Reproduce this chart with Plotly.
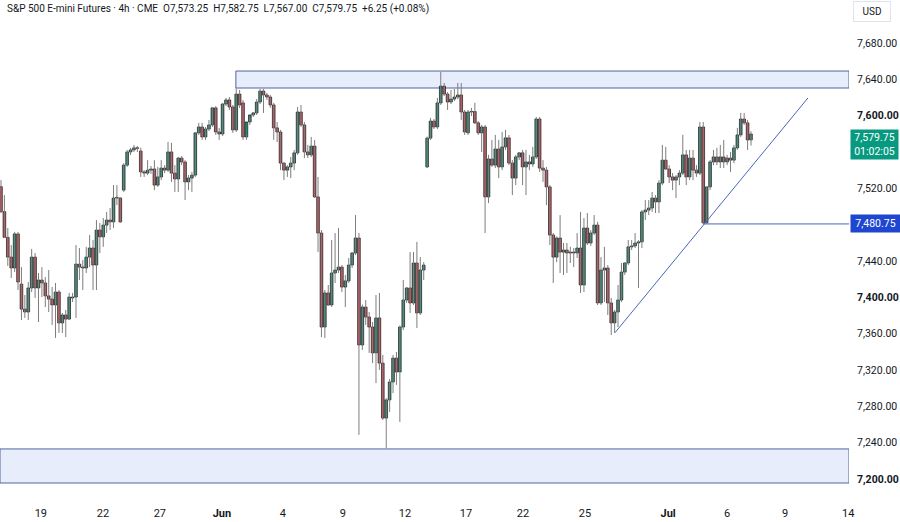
import plotly.graph_objects as go

# ---------------- data (4h bars) ----------------
opens = [7521.75, 7494.25, 7466, 7444.25, 7432.25, 7469.75, 7414.5, 7387, 7383.75, 7410.25,
         7444.25, 7410.25, 7419, 7415.75, 7401.5, 7398, 7391.5, 7405.75, 7371.75, 7380.5,
         7376, 7399.25, 7400.25, 7436.5, 7433.25, 7432.25, 7444.25, 7454.25, 7435.5, 7474,
         7466.5, 7479.5, 7485, 7483, 7509.25, 7509.25,
         7518, 7545.5, 7560, 7562.25, 7564.5, 7561, 7538, 7536.75, 7540, 7541.25,
         7523.5, 7532.5, 7542.25, 7540, 7560, 7536.75, 7530.25, 7553.25, 7549, 7527,
         7531.25, 7534.5, 7581, 7587.5, 7576.5, 7585.25, 7589.75, 7608.5, 7582, 7579.75,
         7612.75, 7617.25, 7609.5, 7584.25, 7623.75,
         7614, 7576.5, 7593, 7600.75, 7603, 7615, 7627, 7622.75, 7620.5, 7611.75,
         7586.5, 7582, 7547.75, 7540, 7543.5, 7547.75, 7559, 7604, 7589.75, 7560,
         7556.75, 7566.5, 7510.5, 7470.75, 7367.25, 7404.75, 7391.5, 7426.75, 7430, 7433.25,
         7411.25, 7418, 7435.5, 7448.75, 7465.25, 7347.5, 7389.25, 7378.25, 7367.25, 7338.75,
         7377.25, 7327.5, 7267, 7287, 7306.75, 7333, 7317.75, 7367.25, 7397, 7410.25,
         7393.75, 7437.75, 7382.75, 7430,
         7543.5, 7575.25, 7594, 7587.5, 7614, 7632.5, 7623.75, 7615, 7618.25, 7620.5,
         7622.75, 7604, 7581, 7604, 7604.5, 7592, 7581, 7587.5, 7510.5, 7552.25,
         7545.5, 7563.25, 7543.5, 7565.5, 7575.5, 7547.75, 7531.25, 7554.5, 7559, 7543.5,
         7549, 7546.75, 7554.5, 7596.25, 7542.25, 7540, 7521.5, 7468.5, 7444.25, 7465.25,
         7449.75, 7452, 7448.75, 7449.75, 7448.75, 7454.25, 7413.5, 7476.25, 7459.75, 7470.75,
         7479.5, 7393.75, 7430, 7432.25, 7393.75, 7371.75, 7383.75, 7397, 7427.75, 7437.75,
         7455.5, 7456.5, 7459.75, 7461, 7494, 7496, 7498.25, 7509.25, 7505, 7525.75,
         7551, 7541.25, 7532.5, 7529, 7532.5, 7536.75, 7556.75, 7532.5, 7553.25, 7540,
         7536.75, 7587.5, 7482, 7521.5, 7549, 7554.5, 7549, 7554.5, 7549, 7553.25,
         7551, 7564.5, 7578.75, 7596.25, 7592, 7573.25]

highs = [7529, 7512.5, 7476.25, 7457.5, 7472, 7472, 7433.25, 7402.5, 7416.75, 7453.25,
         7448.75, 7426.75, 7433.25, 7422.25, 7430, 7411.25, 7415.75, 7408, 7382.75, 7386,
         7404.75, 7404.75, 7457.5, 7454.25, 7441, 7455.5, 7468.5, 7463, 7485, 7481.75,
         7487.25, 7494, 7498.25, 7523.5, 7523.5, 7510.5,
         7547.75, 7562.25, 7564.5, 7567.75, 7566.5, 7564.5, 7540, 7551, 7544.5, 7551,
         7543.5, 7551, 7545.5, 7571, 7570, 7545.5, 7554.5, 7555.5, 7551, 7534.5,
         7538, 7582, 7592, 7592, 7587.5, 7595.25, 7609.5, 7610.5, 7586.5, 7614,
         7619.5, 7620.5, 7611.75, 7630.5, 7628.25,
         7617.25, 7578.75, 7597.5, 7604, 7618.25, 7629.25, 7629.25, 7625, 7622.75, 7614,
         7593, 7584.25, 7548.5, 7545.5, 7554.5, 7562.25, 7609.5, 7611.75, 7593, 7567.75,
         7576.5, 7573.25, 7532.5, 7474, 7408, 7413.5, 7463, 7470.75, 7476.25, 7435.5,
         7424.5, 7443.25, 7449.75, 7490.5, 7470.75, 7392, 7397, 7383.75, 7372.75, 7402.5,
         7404.75, 7336.5, 7289, 7310, 7336.5, 7339.75, 7369, 7419, 7411.25, 7449.75,
         7449.75, 7461, 7444.25, 7438.75,
         7577, 7597.5, 7596.25, 7619.5, 7648, 7636, 7626, 7628.25, 7629.25, 7636,
         7636, 7606.25, 7606.25, 7608.5, 7614, 7594, 7589.75, 7589.75, 7556.75, 7573.25,
         7578.75, 7573.25, 7582, 7584.25, 7578.75, 7551, 7556.75, 7560, 7562.25, 7562.25,
         7556.75, 7565.5, 7598.5, 7598.5, 7551, 7543.5, 7523.5, 7470.75, 7467, 7490.5,
         7459.75, 7459.75, 7455.5, 7454.25, 7470.75, 7494, 7487.25, 7492.75, 7474, 7490.5,
         7483, 7444.25, 7455.5, 7435.5, 7399.25, 7386, 7413.5, 7437.75, 7438.75, 7463,
         7463, 7470.75, 7463, 7496, 7507, 7507, 7516, 7512.5, 7529, 7567.75,
         7565.5, 7545.5, 7536.75, 7534.5, 7540, 7578.75, 7562.25, 7562.25, 7562.25, 7545.5,
         7593, 7593, 7521.5, 7551, 7562.25, 7564.5, 7567.75, 7573.25, 7556.75, 7560,
         7567.75, 7586.5, 7603, 7603, 7595.25, 7582.75]

lows = [7492.75, 7465.25, 7434.5, 7421.25, 7427.75, 7408, 7375, 7377.25, 7375, 7405.75,
        7399.25, 7372.75, 7400.25, 7389.25, 7383.75, 7369.5, 7355.25, 7360.75, 7360.75, 7356.25,
        7375, 7394.75, 7377.25, 7419, 7408, 7426.75, 7433.25, 7408, 7408, 7448.75,
        7455.5, 7470.75, 7474, 7476.25, 7501.5, 7481.75,
        7516, 7543.5, 7556.75, 7560, 7560, 7532.5, 7532.5, 7534.5, 7535.75, 7518,
        7521.5, 7529, 7536.75, 7538, 7527, 7516, 7516, 7545.5, 7507, 7518,
        7516, 7532.5, 7578.75, 7573.25, 7573.25, 7583, 7587.5, 7578.75, 7573.25, 7577.5,
        7610.5, 7606.25, 7581, 7582, 7608.5,
        7573.25, 7573.25, 7589.75, 7598.5, 7600.75, 7612.75, 7603, 7617.25, 7608.5, 7573.25,
        7571, 7540, 7529, 7532.5, 7531.25, 7540, 7556.75, 7587.5, 7553.25, 7553.25,
        7554.5, 7509.25, 7449.75, 7356.25, 7355.25, 7390.5, 7389.25, 7415.75, 7426.75, 7405.75,
        7389.25, 7415.75, 7432.25, 7446.5, 7248.5, 7342, 7369.5, 7338.75, 7327.5, 7305.5,
        7320, 7265, 7234, 7273.75, 7294.5, 7303.5, 7262.75, 7364, 7393.75, 7382.75,
        7391.5, 7366.25, 7380.5, 7419,
        7542.25, 7573.25, 7585.25, 7585.25, 7611.75, 7621.5, 7606.25, 7612.75, 7616, 7618.25,
        7595.25, 7578.75, 7578.75, 7599.5, 7590.75, 7578.75, 7560, 7470.75, 7503.75, 7543.5,
        7542.25, 7531.25, 7540, 7562.25, 7545.5, 7512.5, 7523.5, 7551, 7523.5, 7512.5,
        7540, 7543.5, 7552.25, 7538, 7527, 7501.5, 7457.5, 7415.75, 7438.75, 7426.75,
        7424.5, 7426.75, 7437.75, 7433.25, 7443.25, 7404.75, 7405.75, 7457.5, 7456.5, 7468.5,
        7391.5, 7391.5, 7394.75, 7380.5, 7358.5, 7360.75, 7367.25, 7394.75, 7424.5, 7435.5,
        7452, 7454.25, 7410.25, 7454.25, 7485, 7490.5, 7494, 7492.75, 7492.75, 7523.5,
        7540, 7525.75, 7518, 7509.25, 7523.5, 7534.5, 7523.5, 7529, 7529, 7532.5,
        7534.5, 7480.75, 7481, 7518, 7545.5, 7545.5, 7542.25, 7542.25, 7545.5, 7538,
        7547.75, 7562.25, 7576.5, 7589.75, 7562.25, 7567]

closes = [7494.25, 7466, 7444.25, 7432.25, 7469.75, 7416.75, 7387, 7383.75, 7410.25, 7444.25,
          7410.25, 7419, 7415.75, 7401.5, 7398, 7391.5, 7405.75, 7371.75, 7380.5, 7376,
          7400.25, 7400.25, 7436.5, 7433.25, 7432.25, 7444.25, 7454.25, 7435.5, 7474, 7466.5,
          7479.5, 7485, 7483, 7509.25, 7510, 7483,
          7545.5, 7560, 7562.25, 7564.5, 7564, 7538, 7536.75, 7540, 7541.25, 7523.5,
          7532.5, 7542.25, 7540, 7560, 7536.75, 7530.25, 7553.25, 7549, 7527, 7531.25,
          7534.5, 7581, 7587.5, 7576.5, 7585.25, 7589.75, 7608.5, 7582, 7579.75, 7612.75,
          7617.25, 7609.5, 7584.25, 7623.75, 7611.75,
          7576.5, 7593, 7600.75, 7603, 7615, 7627, 7622.75, 7620.5, 7611.75, 7586.5,
          7582, 7547.75, 7540, 7543.5, 7547.75, 7559, 7604, 7589.75, 7560, 7556.75,
          7566.5, 7510.5, 7470.75, 7367.25, 7404.75, 7391.5, 7426.75, 7430, 7433.25, 7411.25,
          7418, 7435.5, 7448.75, 7465.25, 7347.5, 7389.25, 7378.25, 7367.25, 7338.75, 7377.25,
          7327.5, 7267, 7287, 7306.75, 7333, 7317.75, 7367.25, 7397, 7410.25, 7393.75,
          7437.75, 7382.75, 7430, 7435.5,
          7575.25, 7594, 7587.5, 7614, 7632.5, 7623.75, 7615, 7618.25, 7620.5, 7622.75,
          7604, 7582, 7604, 7604.5, 7592, 7581, 7587.5, 7510.5, 7552.25, 7545.5,
          7563.25, 7543.5, 7565.5, 7575.5, 7547.75, 7531.25, 7554.5, 7559, 7543.5, 7549,
          7546.75, 7554.5, 7596.25, 7542.25, 7540, 7521.5, 7468.5, 7444.25, 7465.25, 7449.75,
          7452, 7448.75, 7449.75, 7448.75, 7454.25, 7413.5, 7476.25, 7459.75, 7470.75, 7479.5,
          7393.75, 7430, 7432.25, 7393.75, 7371.75, 7383.75, 7397, 7427.75, 7437.75, 7455.5,
          7456.5, 7459.75, 7461, 7494, 7496, 7498.25, 7509.25, 7505, 7525.75, 7551,
          7541.25, 7532.5, 7529, 7532.5, 7536.75, 7556.75, 7532.5, 7553.25, 7540, 7536.75,
          7587.5, 7482, 7521.5, 7549, 7554.5, 7549, 7554.5, 7549, 7553.25, 7551,
          7564.5, 7578.75, 7596.25, 7592, 7573.25, 7579.75]

price_ticks = [7200, 7240, 7280, 7320, 7360, 7400, 7440, 7480, 7520, 7560, 7600, 7640, 7680]
bold_price_ticks = [7200, 7400, 7600]
date_tick_pos = [11.7, 29.9, 46.6, 64.8, 82.7, 100.3, 118.5, 136.4, 153.1, 171.3, 195.7, 213.0, 230.0, 248.5]
date_tick_text = ["19", "22", "27", "Jun", "4", "9", "12", "17", "22", "25", "Jul", "6", "9", "14"]
bold_date_text = ["Jun", "Jul"]

upper_zone_start = 68.9
upper_zone_prices = [7630.4, 7649.1]
lower_zone_prices = [7195.5, 7233.0]
trend_x = [180.1, 236.7]
trend_y = [7361.0, 7619.4]
support_start = 205.9
support_price = 7480.75
last_price = 7579.75
countdown = "01:02:05"
header = ("S&P 500 E-mini Futures · 4h · CME  O7,573.25  H7,582.75  L7,567.00  C7,579.75  +6.25 (+0.08%)")

# ---------------- styling ----------------
GREEN = "#1f8a72"
RED = "#d0434f"
WICK = "#7d7d7d"
TEXT = "#131722"
ZONE_FILL = "#e8edfb"
ZONE_LINE = "#50659f"
FONT = "Roboto"

n = len(closes)
idx = list(range(n))
x_range = [-0.29, 248.75]
y_range = [7183.4, 7727.3]

wx, wy = [], []
for i in idx:
    wx += [i, i, None]
    wy += [lows[i], highs[i], None]

base = [min(o, c) for o, c in zip(opens, closes)]
height = [max(abs(c - o), 0.6) for o, c in zip(opens, closes)]
colors = [GREEN if c >= o else RED for o, c in zip(opens, closes)]

fig = go.Figure()
fig.add_trace(go.Scatter(x=wx, y=wy, mode="lines", line=dict(color=WICK, width=1),
                         hoverinfo="skip", connectgaps=False))
fig.add_trace(go.Bar(x=idx, y=height, base=base, width=0.78,
                     marker=dict(color=colors, line=dict(color="#1a1a1a", width=0.7))))

shapes = [
    dict(type="rect", xref="x", yref="y", x0=upper_zone_start, x1=x_range[1],
         y0=upper_zone_prices[0], y1=upper_zone_prices[1], fillcolor=ZONE_FILL,
         line=dict(color=ZONE_LINE, width=1), layer="below"),
    dict(type="rect", xref="x", yref="y", x0=x_range[0], x1=x_range[1],
         y0=lower_zone_prices[0], y1=lower_zone_prices[1], fillcolor=ZONE_FILL,
         line=dict(color=ZONE_LINE, width=1), layer="below"),
    dict(type="line", xref="x", yref="y", x0=trend_x[0], x1=trend_x[1],
         y0=trend_y[0], y1=trend_y[1], line=dict(color="#4a66b8", width=1)),
    dict(type="line", xref="x", yref="y", x0=support_start, x1=x_range[1],
         y0=support_price, y1=support_price, line=dict(color="#4a66b8", width=1)),
]

def fmt(v):
    s = f"{v:,.2f}"
    return f"<b>{s}</b>" if v in bold_price_ticks else s

annotations = [
    dict(xref="paper", yref="paper", x=0, y=1, xanchor="left", yanchor="top",
         xshift=5, yshift=-1, text=header, showarrow=False,
         font=dict(family=FONT, size=10, color=TEXT)),
    dict(xref="paper", yref="paper", x=1, y=1, xanchor="left", yanchor="top",
         xshift=4, yshift=-1, text="USD", showarrow=False, width=32, height=15,
         bordercolor="#e0e3eb", borderwidth=1, borderpad=2, bgcolor="white",
         font=dict(family=FONT, size=10, color=TEXT)),
    dict(xref="paper", yref="y", x=1, y=last_price, xanchor="left", yanchor="top",
         xshift=1, yshift=5, text=f"{last_price:,.2f}<br>{countdown}", showarrow=False,
         width=45, bgcolor="#089981", borderpad=1,
         font=dict(family=FONT, size=10.5, color="white")),
    dict(xref="paper", yref="y", x=1, y=support_price, xanchor="left", yanchor="middle",
         xshift=1, text=f"{support_price:,.2f}", showarrow=False,
         width=45, bgcolor="#1f46d1", borderpad=2,
         font=dict(family=FONT, size=10.5, color="white")),
]

fig.update_layout(
    width=900, height=522,
    margin=dict(l=0, r=51, t=0, b=28),
    paper_bgcolor="white", plot_bgcolor="white",
    showlegend=False,
    shapes=shapes, annotations=annotations,
    font=dict(family=FONT, size=11, color=TEXT),
    xaxis=dict(range=x_range, tickmode="array", tickvals=date_tick_pos,
               ticktext=[f"<b>{t}</b>" if t in bold_date_text else t for t in date_tick_text],
               showgrid=False, zeroline=False, showline=False, ticks="",
               ticklabelstandoff=11, tickfont=dict(family=FONT, size=11, color=TEXT)),
    yaxis=dict(range=y_range, side="right", tickmode="array", tickvals=price_ticks,
               ticktext=[fmt(v) for v in price_ticks],
               showgrid=False, zeroline=False, showline=False, ticks="",
               ticklabelstandoff=7, tickfont=dict(family=FONT, size=10.5, color=TEXT)),
)

fig.write_html("out.html")
